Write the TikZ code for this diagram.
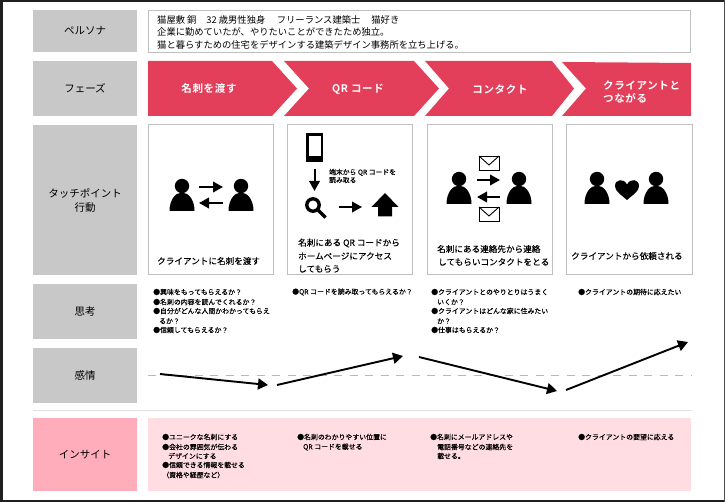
\documentclass[tikz,border=0pt]{standalone}
\usepackage{fontspec}
\setmainfont{Noto Sans CJK JP}
\newfontfamily\medfont[FakeBold=0.25]{Noto Sans CJK JP}
\newfontfamily\phasefont[LetterSpace=6]{Noto Sans CJK JP Bold}
\usetikzlibrary{arrows.meta}
\definecolor{labelgray}{HTML}{C8C8C8}
\definecolor{phasered}{HTML}{E33F5A}
\definecolor{insightlab}{HTML}{FFADBB}
\definecolor{insightbg}{HTML}{FFDDE2}
\definecolor{cardline}{HTML}{C0C0C0}
\tikzset{
  x=1pt,y=-1pt,
  labelbox/.style={fill=labelgray,draw=none,minimum width=104pt,anchor=center,font=\fontsize{10.5}{14}\selectfont,align=center,inner sep=0pt},
  card/.style={draw=cardline,line width=1pt,fill=white},
  phasechev/.style={fill=phasered,draw=none},
  phasetext/.style={text=white,font=\fontsize{10.5}{13}\phasefont,inner sep=0pt},
  small/.style={anchor=west,inner sep=0pt,font=\fontsize{6.9}{9}\medfont},
  cardtext/.style={anchor=west,inner sep=0pt,font=\fontsize{8.6}{10}\medfont},
  flow/.style={-{Triangle[length=10pt,width=10.5pt]},line width=2pt,black},
  mood/.style={-{Triangle[length=10pt,width=11pt]},line width=1.9pt,black},
  pics/person/.style={code={
    \fill[black] (0,-6.5) circle (7.2);
    \fill[black] (-12.5,18.5) .. controls (-12.5,8) and (-7,0) .. (0,0) .. controls (7,0) and (12.5,8) .. (12.5,18.5) -- cycle;
  }},
  pics/envelope/.style={code={
    \draw[black,line width=0.9pt,fill=white] (-10,-7) rectangle (10,7);
    \draw[black,line width=0.9pt] (-10,-7) -- (0,2) -- (10,-7);
  }},
}
\newcommand{\dotline}[4]{\node[small] (#1) at (#2,#3) {#4};}
\begin{document}
\begin{tikzpicture}
\useasboundingbox (0,0) rectangle (725,502);
\fill[white] (0,0) rectangle (725,502);
% frame
\fill[black!88] (0,0) rectangle (725,2);
\fill[black!88] (0,0) rectangle (2.6,502);
\fill[black!88] (0,500) rectangle (725,502);
\fill[black!70] (724.2,0) rectangle (725,502);
% left labels
\node[labelbox,minimum height=42pt] (lpersona) at (85,31) {ペルソナ};
\node[labelbox,minimum height=55pt] (lphase) at (85,88.5) {フェーズ};
\node[labelbox,minimum height=150pt] (ltouch) at (85,200) {タッチポイント\\行動};
\node[labelbox,minimum height=55pt] (lthink) at (85,311.5) {思考};
\node[labelbox,minimum height=55pt] (lfeel) at (85,375.5) {感情};
\node[labelbox,minimum height=73pt,fill=insightlab] (linsight) at (85,454.5) {インサイト};
% persona
\draw[cardline,line width=0.9pt,fill=white] (148,10.5) rectangle (690.5,52);
\begin{scope}[every node/.style={anchor=west,inner sep=0pt,font=\fontsize{9.3}{11}\selectfont}]
\node (p1) at (157,20) {猫屋敷 銅\hspace{10pt}32 歳男性独身\hspace{11.5pt}フリーランス建築士\hspace{11pt}猫好き};
\node (p2) at (157,32) {企業に勤めていたが、やりたいことができたため独立。};
\node (p3) at (157,45) {猫と暮らすための住宅をデザインする建築デザイン事務所を立ち上げる。};
\end{scope}
% phases
\fill[phasechev] (148,61) -- (272,61) -- (297,88.5) -- (272,116) -- (148,116) -- cycle;
\fill[phasechev] (284,61) -- (414,61) -- (439,88.5) -- (414,116) -- (284,116) -- (309,88.5) -- cycle;
\fill[phasechev] (425,61) -- (552,61) -- (574,88.5) -- (552,116) -- (425,116) -- (449,88.5) -- cycle;
\fill[phasechev] (562,62) -- (691,63) -- (691,116) -- (562,116) -- (586,88.5) -- cycle;
\node[phasetext] (ph1) at (209,88) {名刺を渡す};
\node[phasetext] (ph2) at (358,89.5) {QR コード};
\node[phasetext] (ph3) at (500,89.5) {コンタクト};
\node[phasetext,anchor=west,align=left] (ph4) at (603,91.5) {クライアントと\\つながる};
% cards
\draw[card] (148,125) rectangle (273,275);
\draw[card] (287,125) rectangle (412,275);
\draw[card] (427,125) rectangle (552,275);
\draw[card] (566,125) rectangle (692,275);
% card 1
\pic at (182,192.5) {person};
\pic at (241,192.5) {person};
\coordinate (c1a) at (199,187); \coordinate (c1b) at (223,187);
\coordinate (c1c) at (223,203); \coordinate (c1d) at (199,203);
\draw[flow] (c1a) -- (c1b);
\draw[flow] (c1c) -- (c1d);
\node[cardtext] (t1) at (157,261) {クライアントに名刺を渡す};
% card 2
\fill[black] (306,133) rectangle (323,162);
\fill[white] (308.5,136) rectangle (320.5,156);
\coordinate (c2a) at (314.5,169); \coordinate (c2b) at (314.5,191);
\draw[flow] (c2a) -- (c2b);
\node[anchor=west,inner sep=0pt,font=\fontsize{6.8}{8}\medfont,align=left] (t2s) at (329,176) {端末から QR コードを\\読み取る};
\draw[black,line width=3.4pt] (313,205) circle (6.2);
\draw[black,line width=3.4pt] (318,210) -- (325.5,217.5);
\coordinate (c2c) at (339,207); \coordinate (c2d) at (362,207);
\draw[flow] (c2c) -- (c2d);
\fill[black] (385,193) -- (398.5,207) -- (392,207) -- (392,216.5) -- (378,216.5) -- (378,207) -- (371.5,207) -- cycle;
\node[cardtext] (t2a) at (298,243) {名刺にある QR コードから};
\node[cardtext] (t2b) at (298,256) {ホームページにアクセス};
\node[cardtext] (t2c) at (298,269) {してもらう};
% card 3
\pic at (459,185.5) {person};
\pic at (519,185.5) {person};
\pic at (489,163) {envelope};
\pic at (489,214) {envelope};
\coordinate (c3a) at (477,180); \coordinate (c3b) at (500,180);
\coordinate (c3c) at (500,197); \coordinate (c3d) at (477,197);
\draw[flow] (c3a) -- (c3b);
\draw[flow] (c3c) -- (c3d);
\node[cardtext] (t3a) at (437,249) {名刺にある連絡先から連絡};
\node[cardtext] (t3b) at (438,262) {してもらいコンタクトをとる};
% card 4
\pic at (597,185.5) {person};
\pic at (656,185.5) {person};
\fill[black] (627,200) .. controls (620,194) and (615,191) .. (615,186) .. controls (615,179) and (624,178) .. (627,184.5) .. controls (630,178) and (639,179) .. (639,186) .. controls (639,191) and (634,194) .. (627,200) -- cycle;
\node[cardtext] (t4) at (571,256) {クライアントから依頼される};
% thoughts
\dotline{a1}{153}{292}{●興味をもってもらえるか？}
\dotline{a2}{153}{302}{●名刺の内容を読んでくれるか？}
\dotline{a3}{153}{311}{●自分がどんな人間かわかってもらえ}
\dotline{a4}{159}{321}{るか？}
\dotline{a5}{153}{330}{●信頼してもらえるか？}
\dotline{b1}{292}{292}{●QR コードを読み取ってもらえるか？}
\dotline{c1}{431}{292}{●クライアントとのやりとりはうまく}
\dotline{c2}{437}{302}{いくか？}
\dotline{c3}{431}{311}{●クライアントはどんな家に住みたい}
\dotline{c4}{437}{321}{か？}
\dotline{c5}{431}{330}{●仕事はもらえるか？}
\dotline{d1}{578}{292}{●クライアントの期待に応えたい}
% emotion
\coordinate (dl) at (148,375); \coordinate (dr) at (691,375);
\draw[black!28,line width=0.8pt,dash pattern=on 8pt off 7.5pt] (dl) -- (dr);
\coordinate (m1) at (160,374); \coordinate (m2) at (268,385);
\coordinate (m3) at (277,385); \coordinate (m4) at (403,356);
\coordinate (m5) at (419,357); \coordinate (m6) at (557,391);
\coordinate (m7) at (566,390); \coordinate (m8) at (688,342);
\draw[mood] (m1) -- (m2);
\draw[mood] (m3) -- (m4);
\draw[mood] (m5) -- (m6);
\draw[mood] (m7) -- (m8);
% separator
\coordinate (s1) at (33,410.5); \coordinate (s2) at (691,410.5);
\draw[black!12,line width=0.8pt] (s1) -- (s2);
% insight
\fill[insightbg] (148,418) rectangle (691,491);
\dotline{e1}{162}{437}{●ユニークな名刺にする}
\dotline{e2}{162}{447}{●会社の雰囲気が伝わる}
\dotline{e3}{168}{456}{デザインにする}
\dotline{e4}{162}{465}{●信頼できる情報を載せる}
\dotline{e5}{162}{475}{（資格や経歴など）}
\dotline{f1}{297}{437}{●名刺のわかりやすい位置に}
\dotline{f2}{303}{447}{QR コードを載せる}
\dotline{g1}{430}{437}{●名刺にメールアドレスや}
\dotline{g2}{437}{447}{電話番号などの連絡先を}
\dotline{g3}{437}{456}{載せる。}
\dotline{h1}{578}{437}{●クライアントの要望に応える}
\end{tikzpicture}
\end{document}
